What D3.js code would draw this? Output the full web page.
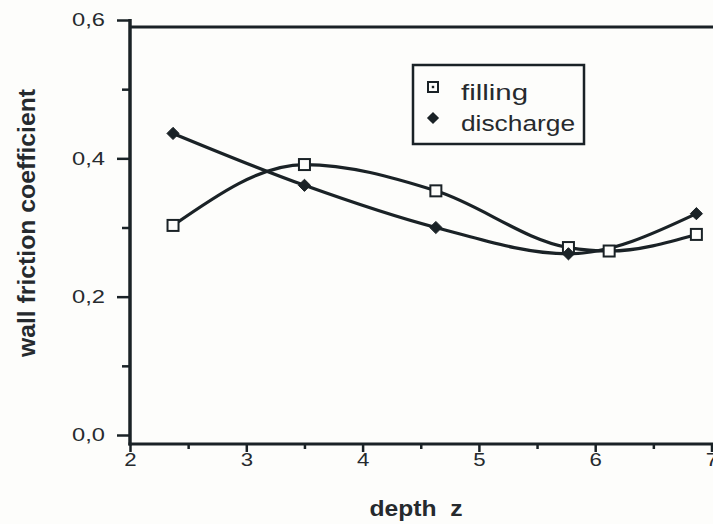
<!DOCTYPE html>
<html>
<head>
<meta charset="utf-8">
<script src="https://cdn.jsdelivr.net/npm/d3@7"></script>
<style>
  html, body { margin: 0; padding: 0; background: #fdfdfb; }
  svg { display: block; }
  text { font-family: "Liberation Sans", Arial, Helvetica, sans-serif; fill: #262a2e; }
</style>
</head>
<body>
<svg id="chart" width="713" height="524"></svg>
<script>
// Wall friction coefficient against depth, filling vs. discharge
const depthFilling   = [2.37, 3.50, 4.63, 5.77, 6.12, 6.87];
const filling        = [0.303, 0.391, 0.353, 0.271, 0.266, 0.290];
const depthDischarge = [2.37, 3.50, 4.63, 5.77, 6.87];
const discharge      = [0.436, 0.361, 0.300, 0.262, 0.320];

const yTicks = [0, 0.2, 0.4, 0.6];
const yMinorTicks = [0.1, 0.3, 0.5];
const xTicks = [2, 3, 4, 5, 6, 7];
const xMinorTicks = [2.5, 3.5, 4.5, 5.5, 6.5];
const seriesNames = ["filling", "discharge"];

const W = 713, H = 524;
const ink = "#1a2226";
const svg = d3.select("#chart");

const x = d3.scaleLinear().domain([2, 7]).range([130, 711.5]);
const y = d3.scaleLinear().domain([0, 0.6]).range([435, 20]);
const axisY = 444;   // baseline of the depth axis
const frameTop = 27;

const commaFmt = d3.formatLocale({ decimal: ",", thousands: ".", grouping: [3], currency: ["", ""] }).format(".1f");

// widen a text element horizontally by factor k
function stretch(sel, k) {
  sel.each(function () {
    const w = this.getComputedTextLength();
    d3.select(this).attr("textLength", w * k).attr("lengthAdjust", "spacingAndGlyphs");
  });
}

// frame top line
svg.append("line")
  .attr("x1", x(2)).attr("x2", W).attr("y1", frameTop).attr("y2", frameTop)
  .attr("stroke", ink).attr("stroke-width", 3);

// y axis: major ticks with labels
const gy = svg.append("g").attr("transform", `translate(${x(2)},0)`)
  .call(d3.axisLeft(y).tickValues(yTicks).tickSize(13).tickPadding(12).tickFormat(commaFmt));
gy.select(".domain").remove();
gy.selectAll(".tick line").attr("stroke", ink).attr("stroke-width", 2.5);
gy.selectAll(".tick text").attr("font-size", 18.5).style("fill", "#262a2e").attr("font-family", null)
  .call(stretch, 1.28);

const gyMinor = svg.append("g").attr("transform", `translate(${x(2)},0)`)
  .call(d3.axisLeft(y).tickValues(yMinorTicks).tickSize(8).tickFormat(""));
gyMinor.select(".domain").remove();
gyMinor.selectAll(".tick line").attr("stroke", ink).attr("stroke-width", 2.5);

// y axis line, down to the depth axis
svg.append("line")
  .attr("x1", x(2)).attr("x2", x(2)).attr("y1", y(0.6) - 1).attr("y2", axisY + 1.5)
  .attr("stroke", ink).attr("stroke-width", 3.5);

// x axis
const gx = svg.append("g").attr("transform", `translate(0,${axisY})`)
  .call(d3.axisBottom(x).tickValues(xTicks).tickSize(8).tickPadding(1).tickFormat(d3.format("d")));
gx.select(".domain").remove();
gx.selectAll(".tick line").attr("stroke", ink).attr("stroke-width", 2.5);
gx.selectAll(".tick text").attr("font-size", 18.5).style("fill", "#262a2e").attr("font-family", null)
  .call(stretch, 1.2);

const gxMinor = svg.append("g").attr("transform", `translate(0,${axisY})`)
  .call(d3.axisBottom(x).tickValues(xMinorTicks).tickSize(5).tickFormat(""));
gxMinor.select(".domain").remove();
gxMinor.selectAll(".tick line").attr("stroke", ink).attr("stroke-width", 2.5);

svg.append("line")
  .attr("x1", x(2) - 1.5).attr("x2", W).attr("y1", axisY).attr("y2", axisY)
  .attr("stroke", ink).attr("stroke-width", 3);

// axis titles
svg.append("text")
  .attr("transform", `translate(35,223) rotate(-90)`)
  .attr("text-anchor", "middle")
  .attr("font-size", 24).attr("font-weight", "bold")
  .attr("textLength", 268).attr("lengthAdjust", "spacingAndGlyphs")
  .text("wall friction coefficient");

svg.append("text")
  .attr("x", 416).attr("y", 516)
  .attr("text-anchor", "middle")
  .attr("font-size", 22).attr("font-weight", "bold")
  .attr("textLength", 93).attr("lengthAdjust", "spacingAndGlyphs")
  .text("depth\u00a0 z");

// curves
const line = d3.line().x(d => x(d[0])).y(d => y(d[1])).curve(d3.curveMonotoneX);
const fillPts = depthFilling.map((d, i) => [d, filling[i]]);
const disPts = depthDischarge.map((d, i) => [d, discharge[i]]);

[fillPts, disPts].forEach(pts => {
  svg.append("path").datum(pts).attr("d", line)
    .attr("fill", "none").attr("stroke", ink).attr("stroke-width", 3.2)
    .attr("stroke-linejoin", "round").attr("stroke-linecap", "round");
});

// markers
const sq = 11;
svg.append("g").selectAll("rect").data(fillPts).join("rect")
  .attr("x", d => x(d[0]) - sq / 2).attr("y", d => y(d[1]) - sq / 2)
  .attr("width", sq).attr("height", sq)
  .attr("fill", "#fdfdfb").attr("stroke", ink).attr("stroke-width", 2);

const diamond = d3.symbol().type(d3.symbolDiamond2).size(95);
svg.append("g").selectAll("path").data(disPts).join("path")
  .attr("transform", d => `translate(${x(d[0])},${y(d[1])})`)
  .attr("d", diamond).attr("fill", ink).attr("stroke", ink).attr("stroke-width", 1);

// legend
const lg = svg.append("g");
lg.append("rect")
  .attr("x", 413).attr("y", 65).attr("width", 171).attr("height", 79)
  .attr("fill", "#fdfdfb").attr("stroke", ink).attr("stroke-width", 2.5);
lg.append("rect")
  .attr("x", 433 - 5).attr("y", 87 - 5).attr("width", 10).attr("height", 10)
  .attr("fill", "#fdfdfb").attr("stroke", ink).attr("stroke-width", 2);
lg.append("rect")
  .attr("x", 433 - 1.2).attr("y", 87 - 1.2).attr("width", 2.4).attr("height", 2.4)
  .attr("fill", ink);
lg.append("path")
  .attr("transform", "translate(433,118)")
  .attr("d", diamond).attr("fill", ink);
lg.append("text").attr("x", 461).attr("y", 100).attr("font-size", 22)
  .attr("textLength", 67).attr("lengthAdjust", "spacingAndGlyphs")
  .text(seriesNames[0]);
lg.append("text").attr("x", 461).attr("y", 131).attr("font-size", 22)
  .attr("textLength", 114).attr("lengthAdjust", "spacingAndGlyphs")
  .text(seriesNames[1]);
</script>
</body>
</html>
